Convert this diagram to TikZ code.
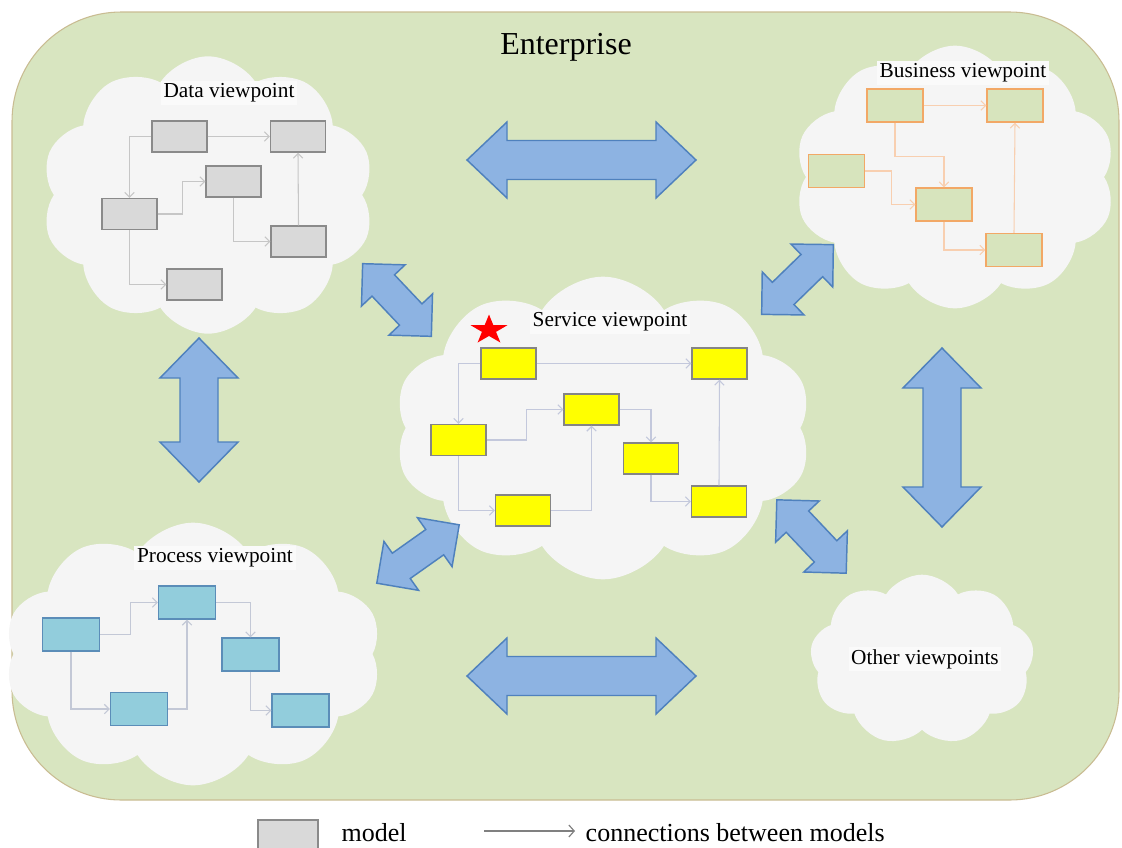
\documentclass[tikz,border=0pt]{standalone}
\usepackage{fontspec}
\setmainfont{Liberation Serif}
\usetikzlibrary{shapes.symbols,shapes.geometric,arrows.meta}
\definecolor{entfill}{HTML}{D8E5C0}
\definecolor{entline}{HTML}{C9BC92}
\definecolor{cloudfill}{HTML}{F5F5F5}
\definecolor{labelbg}{HTML}{FAFAFA}
\definecolor{arrfill}{HTML}{8DB3E2}
\definecolor{arrline}{HTML}{4F81BD}
\definecolor{dfill}{HTML}{D9D9D9}
\definecolor{dline}{HTML}{8A8A8A}
\definecolor{dconnc}{HTML}{C6C6C6}
\definecolor{bfill}{HTML}{D7E4BD}
\definecolor{bline}{HTML}{F2A866}
\definecolor{bconnc}{HTML}{F8CFB0}
\definecolor{sfill}{HTML}{FFFF00}
\definecolor{sline}{HTML}{858585}
\definecolor{sconnc}{HTML}{C3C8DC}
\definecolor{pfill}{HTML}{92CDDC}
\definecolor{pline}{HTML}{5B8DB8}
\definecolor{pconnc}{HTML}{C3C8D6}
\newcommand{\bigdarrow}[7]{%
  \begin{scope}[shift={(#1,#2)},rotate=#3]
    \filldraw[barrow] ({-#4/2},0) -- ({-#4/2+#5},#6) -- ({-#4/2+#5},#7) -- ({#4/2-#5},#7) -- ({#4/2-#5},#6) -- ({#4/2},0) -- ({#4/2-#5},-#6) -- ({#4/2-#5},-#7) -- ({-#4/2+#5},-#7) -- ({-#4/2+#5},-#6) -- cycle;
  \end{scope}}
\tikzset{
  cloudsty/.style={cloud, cloud puffs=10, cloud puff arc=115, fill=cloudfill, draw=none, inner sep=0pt},
  vplabel/.style={fill=labelbg, inner sep=2pt, font=\fontsize{16}{18}\selectfont},
  barrow/.style={fill=arrfill, draw=arrline, line width=1.1pt, line join=miter},
  dbox/.style={draw=dline, fill=dfill, line width=1.1pt, minimum width=41.25pt, minimum height=23.25pt, inner sep=0pt},
  bbox/.style={draw=bline, fill=bfill, line width=1.1pt, minimum width=42pt, minimum height=24.75pt, inner sep=0pt},
  sbox/.style={draw=sline, fill=sfill, line width=1.1pt, minimum width=41.25pt, minimum height=23.25pt, inner sep=0pt},
  pbox/.style={draw=pline, fill=pfill, line width=1.1pt, minimum width=42.75pt, minimum height=24.75pt, inner sep=0pt},
  conn/.style={line width=0.8pt, -{Straight Barb[length=3.5pt,width=7pt]}},
  dconn/.style={conn, draw=dconnc},
  bconn/.style={conn, draw=bconnc},
  sconn/.style={conn, draw=sconnc},
  pconn/.style={conn, draw=pconnc},
}
\begin{document}
\begin{tikzpicture}[x=0.75pt,y=-0.75pt]
\useasboundingbox (0,0) rectangle (1122,847);
% enterprise frame
\draw[fill=entfill, draw=entline, line width=0.8pt, rounded corners=82pt] (12,12) rectangle (1119,800);
\node[font=\fontsize{24}{28}\selectfont] (ent) at (566,47) {Enterprise};

% clouds
\node[cloudsty, minimum width=250pt, minimum height=208pt] (cdata) at (208,195) {};
\node[cloudsty, minimum width=241pt, minimum height=197pt] (cbus) at (955,177) {};
\node[cloudsty, minimum width=313pt, minimum height=227pt] (cserv) at (603,428) {};
\node[cloudsty, minimum width=283pt, minimum height=197pt] (cproc) at (193,654) {};
\node[cloudsty, cloud puffs=9, minimum width=168pt, minimum height=128pt] (coth) at (922,660) {};

% big arrows
\bigdarrow{581.5}{160}{0}{229}{40}{38}{19.5}
\bigdarrow{581.5}{676}{0}{229}{40}{38}{19.5}
\bigdarrow{199}{410}{90}{144}{40}{39}{19}
\bigdarrow{942}{437.5}{90}{179}{40}{39}{19}
\bigdarrow{397}{300}{-46.6}{100}{30}{30}{15.5}
\bigdarrow{797.5}{279.5}{44.2}{100}{30}{30}{15.5}
\bigdarrow{418}{554}{35.3}{101}{30}{30}{15.5}
\bigdarrow{811.5}{536.5}{-46.6}{101}{30}{30}{15.5}

% labels
\node[vplabel] (ldata) at (229,93) {Data viewpoint};
\node[vplabel] (lbus) at (963,73) {Business viewpoint};
\node[vplabel] (lserv) at (610,322) {Service viewpoint};
\node[vplabel] (lproc) at (215,558) {Process viewpoint};
\node[vplabel] (loth) at (925,659) {Other viewpoints};

% data models
\node[dbox] (D1) at (179.5,136.5) {};
\node[dbox] (D2) at (298,136.5) {};
\node[dbox] (D3) at (233.5,181.5) {};
\node[dbox] (D4) at (129.5,214) {};
\node[dbox] (D5) at (298.5,241.5) {};
\node[dbox] (D6) at (194.5,284.5) {};
\draw[dconn] (D1.east) -- (D2.west);
\draw[dconn] (D1.west) -| (D4.north);
\draw[dconn] (D4.east) -- ++(25,0) |- (D3.west);
\draw[dconn] (D3.south) |- (D5.west);
\draw[dconn] (D5.north) -- (D2.south);
\draw[dconn] (D4.south) |- (D6.west);

% business models
\node[bbox] (B1) at (895,105.5) {};
\node[bbox] (B2) at (1015,105.5) {};
\node[bbox] (B3) at (836.5,171) {};
\node[bbox] (B4) at (944,204.5) {};
\node[bbox] (B5) at (1014,250) {};
\draw[bconn] (B1.east) -- (B2.west);
\draw[bconn] (B1.south) -- ++(0,34) -| (B4.north);
\draw[bconn] (B3.east) -- ++(26,0) |- (B4.west);
\draw[bconn] (B4.south) |- (B5.west);
\draw[bconn] (B5.north) -- (B2.south);

% service models
\node[star, star points=5, star point ratio=2.6, fill=red, draw=none, minimum size=29pt, inner sep=0pt, yscale=0.8, transform shape] (star) at (489,330) {};
\node[sbox] (S1) at (508.5,363.5) {};
\node[sbox] (S2) at (719.5,363.5) {};
\node[sbox] (S3) at (591.5,409.5) {};
\node[sbox] (S4) at (458.5,440) {};
\node[sbox] (S5) at (651,458.5) {};
\node[sbox] (S6) at (523,510.5) {};
\node[sbox] (S7) at (719,501.5) {};
\draw[sconn] (S1.east) -- (S2.west);
\draw[sconn] (S1.west) -| (S4.north);
\draw[sconn] (S4.east) -- ++(40,0) |- (S3.west);
\draw[sconn] (S3.east) -| (S5.north);
\draw[sconn] (S4.south) |- (S6.west);
\draw[sconn] (S6.east) -| (S3.south);
\draw[sconn] (S5.south) |- (S7.west);
\draw[sconn] (S7.north) -- (S2.south);

% process models
\node[pbox] (P1) at (71,634.5) {};
\node[pbox] (P2) at (187,602.5) {};
\node[pbox] (P3) at (250.5,654.5) {};
\node[pbox] (P4) at (139,709) {};
\node[pbox] (P5) at (300.5,710.5) {};
\draw[pconn] (P1.east) -- ++(30,0) |- (P2.west);
\draw[pconn] (P2.east) -| (P3.north);
\draw[pconn] (P1.south) |- (P4.west);
\draw[pconn] (P4.east) -| (P2.south);
\draw[pconn] (P3.south) |- (P5.west);

% legend
\node[draw=dline, fill=dfill, line width=1.1pt, minimum width=45pt, minimum height=24pt, inner sep=0pt] (lgbox) at (288,836) {};
\node[font=\fontsize{19.5}{22}\selectfont, anchor=west] (lgmodel) at (337,833) {model};
\coordinate (lga) at (484,831);
\coordinate (lgb) at (575,831);
\draw[line width=0.9pt, draw=gray, -{Straight Barb[length=4pt,width=9pt]}] (lga) -- (lgb);
\node[font=\fontsize{19.5}{22}\selectfont, anchor=west] (lgconn) at (581,833) {connections between models};
\end{tikzpicture}
\end{document}
